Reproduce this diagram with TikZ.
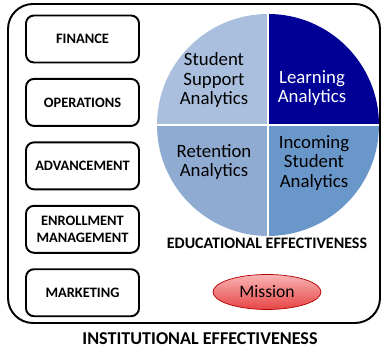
\documentclass[tikz,border=0pt]{standalone}
\usepackage{fontspec}
\setmainfont{Carlito}
\usepackage{tikz}
\usetikzlibrary{positioning}
\usetikzlibrary{shapes.geometric}

\definecolor{quadTL}{HTML}{A9BFDD}
\definecolor{quadTR}{HTML}{000096}
\definecolor{quadBL}{HTML}{8FABD2}
\definecolor{quadBR}{HTML}{6A97CA}
\definecolor{missionTop}{HTML}{F9B4B4}
\definecolor{missionBot}{HTML}{E64545}

\begin{document}
\begin{tikzpicture}[
      frame/.style ={draw=black, line width=1.1pt, rounded corners=0.5cm},
      unit/.style ={rectangle, draw=black, line width=1.1pt, rounded corners=0.16cm,
                    minimum width=2.26cm, minimum height=0.94cm, inner sep=2pt, align=center,
                    font=\fontsize{8.2}{9.2}\selectfont\bfseries},
      quadtext/.style={align=center, font=\fontsize{10.7}{11.2}\selectfont},
      caption/.style={font=\fontsize{9.1}{10}\selectfont\bfseries},
      mission/.style={ellipse, draw=red!70!black, thin, top color=missionTop, bottom color=missionBot,
                      minimum width=2.16cm, minimum height=0.7cm, font=\fontsize{10}{12}\selectfont},
      node distance=0.29cm
    ]
    \useasboundingbox (0,0) rectangle (7.64,6.94);
    \draw [frame] (0.16,0.48) rectangle (7.60,6.86);

    \node [unit] (finance) at (1.65,6.16) {FINANCE} ;
    \node [unit] (operations) [below=of finance] {OPERATIONS} ;
    \node [unit] (advancement) [below=of operations] {ADVANCEMENT} ;
    \node [unit] (enrollment) [below=of advancement] {ENROLLMENT\\MANAGEMENT} ;
    \node [unit] (marketing) [below=of enrollment] {MARKETING} ;

    \coordinate (pie) at (5.36,4.44) ;
    \fill [quadTL] (pie) -- ++(0,2.22) arc (90:180:2.22) -- cycle ;
    \fill [quadTR] (pie) -- ++(2.22,0) arc (0:90:2.22) -- cycle ;
    \fill [quadBL] (pie) -- ++(-2.22,0) arc (180:270:2.22) -- cycle ;
    \fill [quadBR] (pie) -- ++(0,-2.22) arc (270:360:2.22) -- cycle ;
    \draw [white, line width=1pt] (pie) ++(0,2.22) -- ++(0,-4.44) ;
    \draw [white, line width=1pt] (pie) ++(-2.22,0) -- ++(4.44,0) ;

    \node [quadtext] (support) at (4.28,5.34) {Student\\Support\\Analytics} ;
    \node [quadtext, white] (learning) at (6.24,5.18) {Learning\\Analytics} ;
    \node [quadtext] (retention) at (4.28,3.70) {Retention\\Analytics} ;
    \node [quadtext] (incoming) at (6.28,3.68) {Incoming\\Student\\Analytics} ;

    \node [caption] (educational) at (5.34,2.08) {EDUCATIONAL EFFECTIVENESS} ;
    \node [mission] (mission) at (5.34,1.10) {Mission} ;
    \node [caption, font=\fontsize{10.3}{11}\selectfont\bfseries] (institutional) at (4.0,0.16) {INSTITUTIONAL EFFECTIVENESS} ;
  \end{tikzpicture}
\end{document}
